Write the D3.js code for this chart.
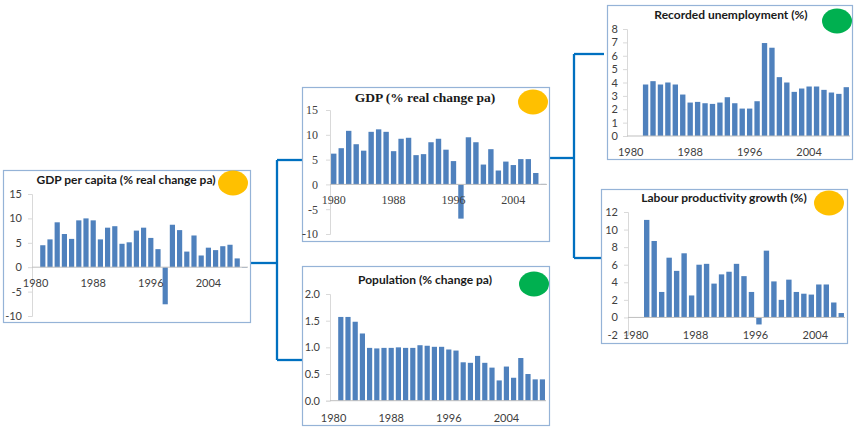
<!doctype html>
<html lang="en">
<head>
<meta charset="utf-8">
<title>Economic indicators</title>
<style>
  body { margin: 0; background: #fff; }
  svg text { font-family: Lato, "Open Sans", sans-serif; }
</style>
</head>
<body>
<svg id="chart" width="854" height="428"></svg>
<script src="https://d3js.org/d3.v7.min.js"></script>
<script>
// data (values in %)
var gdpPerCapitaYears = d3.range(1981, 2010);
var gdpPerCapita = [4.5, 5.7, 9.2, 6.8, 5.8, 9.6, 10.0, 9.6, 5.7, 8.1, 8.4, 4.8, 5.1, 7.5, 8.1,
  6.0, 3.7, -7.6, 8.7, 7.6, 3.2, 6.5, 2.4, 4.0, 3.5, 4.3, 4.6, 1.8, -0.1];

var gdpYears = d3.range(1980, 2009);
var gdp = [6.2, 7.3, 10.8, 8.1, 6.8, 10.6, 11.1, 10.6, 6.7, 9.2, 9.4, 5.9, 6.1, 8.5, 9.2,
  7.0, 4.7, -6.9, 9.5, 8.5, 4.0, 7.1, 2.8, 4.6, 3.9, 5.1, 5.1, 2.3, 0.1];

var populationYears = d3.range(1981, 2010);
var population = [1.57, 1.57, 1.48, 1.26, 0.99, 0.98, 0.99, 0.99, 1.0, 0.99, 0.99, 1.04, 1.03,
  1.01, 1.01, 0.96, 0.94, 0.72, 0.71, 0.84, 0.71, 0.62, 0.38, 0.64, 0.43, 0.8, 0.5, 0.4, 0.4];

var unemploymentYears = d3.range(1982, 2010);
var unemployment = [3.85, 4.1, 3.85, 4.0, 3.85, 3.1, 2.5, 2.55, 2.45, 2.4, 2.5, 2.9, 2.45, 2.05,
  2.05, 2.6, 6.95, 6.6, 4.4, 4.0, 3.3, 3.55, 3.7, 3.7, 3.45, 3.25, 3.15, 3.65];

var productivityYears = d3.range(1982, 2009);
var productivity = [11.1, 8.7, 2.9, 6.8, 5.3, 7.3, 2.5, 6.0, 6.1, 3.85, 4.9, 5.2, 6.1, 4.7, 2.9,
  -0.8, 7.6, 4.1, 2.0, 4.3, 2.9, 2.7, 2.6, 3.75, 3.75, 1.7, 0.5];

var yearLabels = [1980, 1988, 1996, 2004];

var svg = d3.select("#chart");
var barColor = "#4f81bd";
var boxColor = "#95b3d7";
var lineColor = "#0070c0";

// excel style labels use a plain hyphen for negatives
var loc = d3.formatLocale({ decimal: ".", thousands: ",", grouping: [3], currency: ["", ""], minus: "-" });

// connectors between the panels
var links = [
  [[250, 263], [277, 263]], [[277, 160], [277, 360]], [[277, 160], [302, 160]], [[277, 360], [302, 360]],
  [[549, 158], [574, 158]], [[574, 54], [574, 258]], [[574, 54], [604, 54]], [[574, 258], [601, 258]]
];
svg.selectAll("line.link").data(links).enter().append("line")
  .attr("class", "link")
  .attr("x1", function(d) { return d[0][0]; }).attr("y1", function(d) { return d[0][1]; })
  .attr("x2", function(d) { return d[1][0]; }).attr("y2", function(d) { return d[1][1]; })
  .attr("stroke", lineColor).attr("stroke-width", 2.3);

function panel(cfg) {
  var g = svg.append("g");
  var font = cfg.serif ? "'Liberation Serif', 'Times New Roman', serif" : "Lato, sans-serif";
  var tickSize = cfg.serif ? "12px" : "11px";

  g.append("rect")
    .attr("x", cfg.box[0] + 0.5).attr("y", cfg.box[1] + 0.5)
    .attr("width", cfg.box[2] - cfg.box[0]).attr("height", cfg.box[3] - cfg.box[1])
    .attr("fill", "#fff").attr("stroke", boxColor).attr("stroke-width", 1.2);

  var x = d3.scaleBand().domain(d3.range(cfg.firstYear, cfg.lastYear + 1))
    .range(cfg.xr).paddingInner(0.28).paddingOuter(0.14);
  var y = d3.scaleLinear().domain(cfg.yd).range(cfg.yr);

  // value axis
  var yAxis = g.append("g").attr("transform", "translate(" + cfg.xr[0] + ",0)")
    .call(d3.axisLeft(y).tickValues(cfg.ticks).tickFormat(loc.format(cfg.fmt)).tickSize(4).tickPadding(cfg.pad || 6));
  yAxis.select(".domain").attr("stroke", "#d9d9d9");
  yAxis.selectAll(".tick line").attr("stroke", "#d9d9d9");
  yAxis.selectAll("text").attr("fill", "#404040").style("font-family", font).style("font-size", tickSize);

  // bars
  var years = cfg.years;
  g.selectAll("rect.bar").data(cfg.values).enter().append("rect")
    .attr("class", "bar")
    .attr("x", function(d, i) { return x(years[i]); })
    .attr("width", x.bandwidth())
    .attr("y", function(d) { return y(Math.max(0, d)); })
    .attr("height", function(d) { return Math.max(0.6, Math.abs(y(d) - y(0))); })
    .attr("fill", barColor);

  // category axis at zero
  g.append("line").attr("x1", cfg.xr[0]).attr("x2", cfg.xr[1])
    .attr("y1", y(0)).attr("y2", y(0)).attr("stroke", "#bfbfbf");

  g.selectAll("text.year").data(yearLabels).enter().append("text")
    .attr("class", "year")
    .attr("x", function(d) { return x(d) + x.bandwidth() / 2 + (cfg.labelShift || 0); })
    .attr("y", cfg.labelY)
    .attr("text-anchor", "middle")
    .attr("fill", "#404040")
    .style("font-family", font).style("font-size", tickSize)
    .text(function(d) { return d; });

  g.append("text")
    .attr("x", cfg.title[1]).attr("y", cfg.title[2])
    .attr("text-anchor", "middle")
    .attr("fill", "#1a1a1a")
    .style("font-family", font).style("font-weight", "bold")
    .style("font-size", cfg.serif ? "13.5px" : "12px")
    .text(cfg.title[0]);

  g.append("ellipse")
    .attr("cx", cfg.dot[0]).attr("cy", cfg.dot[1]).attr("rx", 15).attr("ry", 12.5)
    .attr("fill", cfg.dot[2]);
}

panel({
  box: [3, 170, 250, 322], xr: [32, 248], firstYear: 1980, lastYear: 2009,
  years: gdpPerCapitaYears, values: gdpPerCapita,
  yd: [-10, 15], yr: [316, 194], ticks: [-10, -5, 0, 5, 10, 15], fmt: "d",
  labelY: 287, title: ["GDP per capita (% real change pa)", 126, 184], dot: [233, 183, "#ffc000"]
});

panel({
  box: [302, 87, 549, 241], xr: [330, 547], firstYear: 1980, lastYear: 2008, serif: true,
  years: gdpYears, values: gdp,
  yd: [-10, 15], yr: [234, 110], ticks: [-10, -5, 0, 5, 10, 15], fmt: "d", pad: 8,
  labelY: 204, title: ["GDP (% real change pa)", 425, 102], dot: [533, 102, "#ffc000"]
});

panel({
  box: [302, 266, 549, 425], xr: [330, 546], firstYear: 1980, lastYear: 2009,
  years: populationYears, values: population,
  yd: [0, 2], yr: [400.7, 294], ticks: [0, 0.5, 1, 1.5, 2], fmt: ".1f",
  labelY: 422, title: ["Population (% change pa)", 425, 284], dot: [534, 284, "#00b050"]
});

panel({
  box: [607, 5, 852, 159], xr: [627, 850], firstYear: 1980, lastYear: 2009,
  years: unemploymentYears, values: unemployment,
  yd: [0, 8], yr: [136, 29], ticks: d3.range(0, 9), fmt: "d", pad: 5,
  labelY: 156, title: ["Recorded unemployment (%)", 731, 19], dot: [837, 21, "#00b050"]
});

panel({
  box: [601, 189, 847, 343], xr: [628, 845], firstYear: 1980, lastYear: 2008,
  years: productivityYears, values: productivity,
  yd: [-2, 12], yr: [335, 212], ticks: d3.range(-2, 13, 2), fmt: "d",
  labelY: 339, labelShift: 4, title: ["Labour productivity growth (%)", 724, 202], dot: [829, 203, "#ffc000"]
});
</script>
</body>
</html>
